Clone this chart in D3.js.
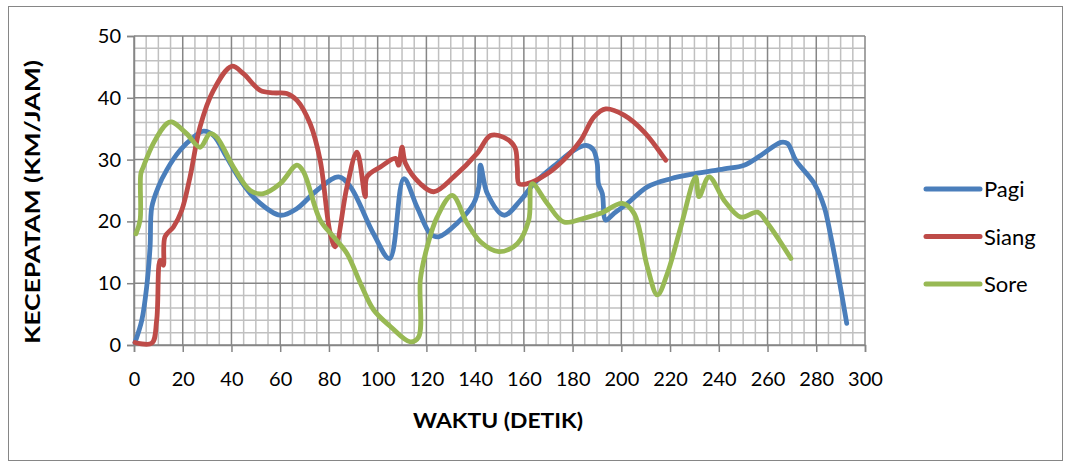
<!DOCTYPE html>
<html>
<head>
<meta charset="utf-8">
<script src="https://cdn.jsdelivr.net/npm/d3@7"></script>
<style>
  html, body { margin: 0; padding: 0; background: #fff; }
  svg text { font-family: Lato, "Open Sans", sans-serif; fill: #000; }
</style>
</head>
<body>
<svg id="chart" width="1069" height="467"></svg>
<script>
// Speed profiles (km/jam) against time (detik) for three periods of the day
const pagiWaktu = [0.4, 3.2, 5.2, 6.6, 7.3, 10, 13.4, 18.9, 24.4, 28.5, 32.6, 38, 43.6, 50.4, 60, 66.9, 75, 84, 88.8, 98.3, 104.9, 110.7, 116.2, 121.6, 125, 132.6, 139.4, 141.5, 142.2, 145, 151.8, 158.6, 164.1, 173.7, 180.5, 185.5, 188.5, 190.1, 190.6, 192.2, 193.6, 197, 202.5, 210.7, 220.3, 229.9, 242.2, 250.4, 257.3, 265.5, 268.2, 271.6, 279.2, 283.3, 286, 289.4, 292.5];
const pagiKecepatan = [0.4, 4, 9.4, 15.9, 22.3, 25.6, 28.3, 31.5, 33.6, 34.6, 33.9, 30.4, 26.7, 23.4, 21, 22.1, 25, 27.2, 25.6, 18, 14, 26.9, 22.3, 18, 17.5, 19.7, 22.9, 25.6, 29.1, 24.5, 21, 23.4, 26.1, 29.4, 31.5, 32.3, 31.6, 29.4, 26.1, 24.5, 20.2, 21.3, 22.9, 25.6, 26.9, 27.7, 28.5, 29.1, 30.7, 32.8, 32.6, 29.9, 26.1, 22.3, 17.5, 10.5, 3.5];

const siangWaktu = [0.4, 7.3, 9.3, 10.7, 12, 12.7, 16.2, 19.6, 23, 27.1, 32.6, 40.1, 44.9, 51.8, 57.3, 62.7, 66.9, 72.3, 76.4, 80.5, 82.6, 87.4, 91.5, 94.9, 95.6, 101.1, 107.3, 108.6, 110, 111.4, 117.5, 123, 131.2, 140.8, 146.3, 151.8, 156.3, 157.3, 158, 161.4, 169.6, 176.5, 183.3, 188.8, 193.6, 201.1, 209.3, 218.2];
const siangKecepatan = [0.4, 0.3, 4, 13.7, 12.9, 17.5, 19.1, 21.8, 27.2, 35.3, 41.2, 45.1, 43.9, 41.2, 40.8, 40.7, 39.6, 35.8, 29.9, 18.1, 15.9, 25.6, 31.2, 24, 27.2, 28.8, 30.2, 29.1, 32, 29.4, 26.1, 24.8, 27.2, 31, 33.9, 33.6, 32, 28.8, 26.1, 26.1, 27.7, 30, 33.1, 36.9, 38.2, 37.2, 34.5, 29.9];

const soreWaktu = [0.8, 2.5, 2.8, 3.8, 7.9, 13.4, 15.5, 21.6, 27.1, 31.2, 34, 40.8, 47.7, 53.1, 60, 66.9, 69.6, 76.4, 81.9, 87.4, 92.9, 98.3, 105.2, 113.4, 116.8, 117.5, 119.6, 124.4, 130.6, 136.7, 142.2, 149.7, 157.3, 162, 163.4, 169.6, 176.4, 184.6, 191.5, 200.4, 205.2, 210.7, 214.8, 218.9, 224.4, 230.5, 231.9, 236, 242.2, 249, 255.9, 260, 269.6];
const soreKecepatan = [18, 20.2, 27.7, 28.8, 32.6, 35.8, 36.1, 34.2, 32, 34.2, 33.6, 28.8, 25, 24.5, 26.1, 29.1, 28, 20.2, 17.5, 14.8, 10, 5.7, 3, 0.5, 1.3, 10.5, 14.8, 20.7, 24.2, 19.7, 16.7, 15.1, 16.4, 20.2, 26.1, 22.9, 19.9, 20.5, 21.3, 22.9, 21.3, 12.6, 8.1, 11.6, 19.1, 27.2, 24, 27.2, 23.4, 20.7, 21.5, 19.7, 14];

const seriesNames = ["Pagi", "Siang", "Sore"];
const seriesColors = ["#4a7ebb", "#be4b48", "#98b954"];
const xTicks = d3.range(0, 301, 20);
const yTicks = d3.range(0, 51, 10);
const xTitle = "WAKTU (DETIK)";
const yTitle = "KECEPATAM (KM/JAM)";

const series = [
  { name: seriesNames[0], color: seriesColors[0], pts: pagiWaktu.map((t, i) => [t, pagiKecepatan[i]]) },
  { name: seriesNames[1], color: seriesColors[1], pts: siangWaktu.map((t, i) => [t, siangKecepatan[i]]) },
  { name: seriesNames[2], color: seriesColors[2], pts: soreWaktu.map((t, i) => [t, soreKecepatan[i]]) }
];

const svg = d3.select("#chart");

// outer chart frame
svg.append("rect")
  .attr("x", 8.5).attr("y", 6.5).attr("width", 1054).attr("height", 454)
  .attr("fill", "#fff").attr("stroke", "#868686").attr("stroke-width", 1);

const plot = { left: 134, right: 865, top: 36, bottom: 345 };
const x = d3.scaleLinear().domain([0, 300]).range([plot.left, plot.right]);
const y = d3.scaleLinear().domain([0, 50]).range([plot.bottom, plot.top]);

// minor grid: every 5 s and every 2 km/jam
const grid = svg.append("g");
grid.selectAll("line.vminor").data(d3.range(0, 301, 5).filter(v => v % 20 !== 0))
  .join("line")
  .attr("x1", d => x(d)).attr("x2", d => x(d))
  .attr("y1", plot.top).attr("y2", plot.bottom)
  .attr("stroke", "#c0c0c0").attr("stroke-width", 1.5);
grid.selectAll("line.hminor").data(d3.range(0, 51, 2).filter(v => v % 10 !== 0))
  .join("line")
  .attr("x1", plot.left).attr("x2", plot.right)
  .attr("y1", d => y(d)).attr("y2", d => y(d))
  .attr("stroke", "#c0c0c0").attr("stroke-width", 1.5);

// major grid
grid.selectAll("line.vmajor").data(xTicks)
  .join("line")
  .attr("x1", d => x(d)).attr("x2", d => x(d))
  .attr("y1", plot.top).attr("y2", plot.bottom)
  .attr("stroke", "#868686").attr("stroke-width", 1.5);
grid.selectAll("line.hmajor").data(yTicks)
  .join("line")
  .attr("x1", plot.left).attr("x2", plot.right)
  .attr("y1", d => y(d)).attr("y2", d => y(d))
  .attr("stroke", "#868686").attr("stroke-width", 1.5);

// axes
const xAxis = svg.append("g")
  .attr("transform", `translate(0,${plot.bottom})`)
  .call(d3.axisBottom(x).tickValues(xTicks).tickSize(7).tickPadding(20));
const yAxis = svg.append("g")
  .attr("transform", `translate(${plot.left},0)`)
  .call(d3.axisLeft(y).tickValues(yTicks).tickSize(7).tickPadding(6));
[xAxis, yAxis].forEach(a => {
  a.selectAll("path.domain").attr("stroke", "#868686").attr("stroke-width", 1.5);
  a.selectAll(".tick line").attr("stroke", "#868686").attr("stroke-width", 1.5);
  a.selectAll(".tick text").attr("font-size", 20).attr("font-family", "Lato, 'Open Sans', sans-serif").attr("fill", "#000");
});

// series lines
const line = d3.line()
  .x(d => x(d[0])).y(d => y(d[1]))
  .curve(d3.curveCatmullRom.alpha(0.5));
svg.append("g").selectAll("path").data(series)
  .join("path")
  .attr("d", d => line(d.pts))
  .attr("fill", "none")
  .attr("stroke", d => d.color)
  .attr("stroke-width", 4.8)
  .attr("stroke-linecap", "round")
  .attr("stroke-linejoin", "round");

// axis titles
svg.append("text")
  .attr("x", 498).attr("y", 428)
  .attr("text-anchor", "middle")
  .attr("font-size", 20).attr("font-weight", "bold")
  .attr("textLength", 170).attr("lengthAdjust", "spacingAndGlyphs")
  .text(xTitle);
svg.append("text")
  .attr("transform", "translate(40,202) rotate(-90)")
  .attr("text-anchor", "middle")
  .attr("font-size", 20).attr("font-weight", "bold")
  .attr("textLength", 284).attr("lengthAdjust", "spacingAndGlyphs")
  .text(yTitle);

// legend
const legend = svg.append("g");
const legendY = [189, 236.5, 284];
series.forEach((s, i) => {
  legend.append("line")
    .attr("x1", 926).attr("x2", 980)
    .attr("y1", legendY[i]).attr("y2", legendY[i])
    .attr("stroke", s.color).attr("stroke-width", 5).attr("stroke-linecap", "round");
  legend.append("text")
    .attr("x", 984).attr("y", legendY[i] + 8)
    .attr("font-size", 22)
    .text(s.name);
});
</script>
</body>
</html>
